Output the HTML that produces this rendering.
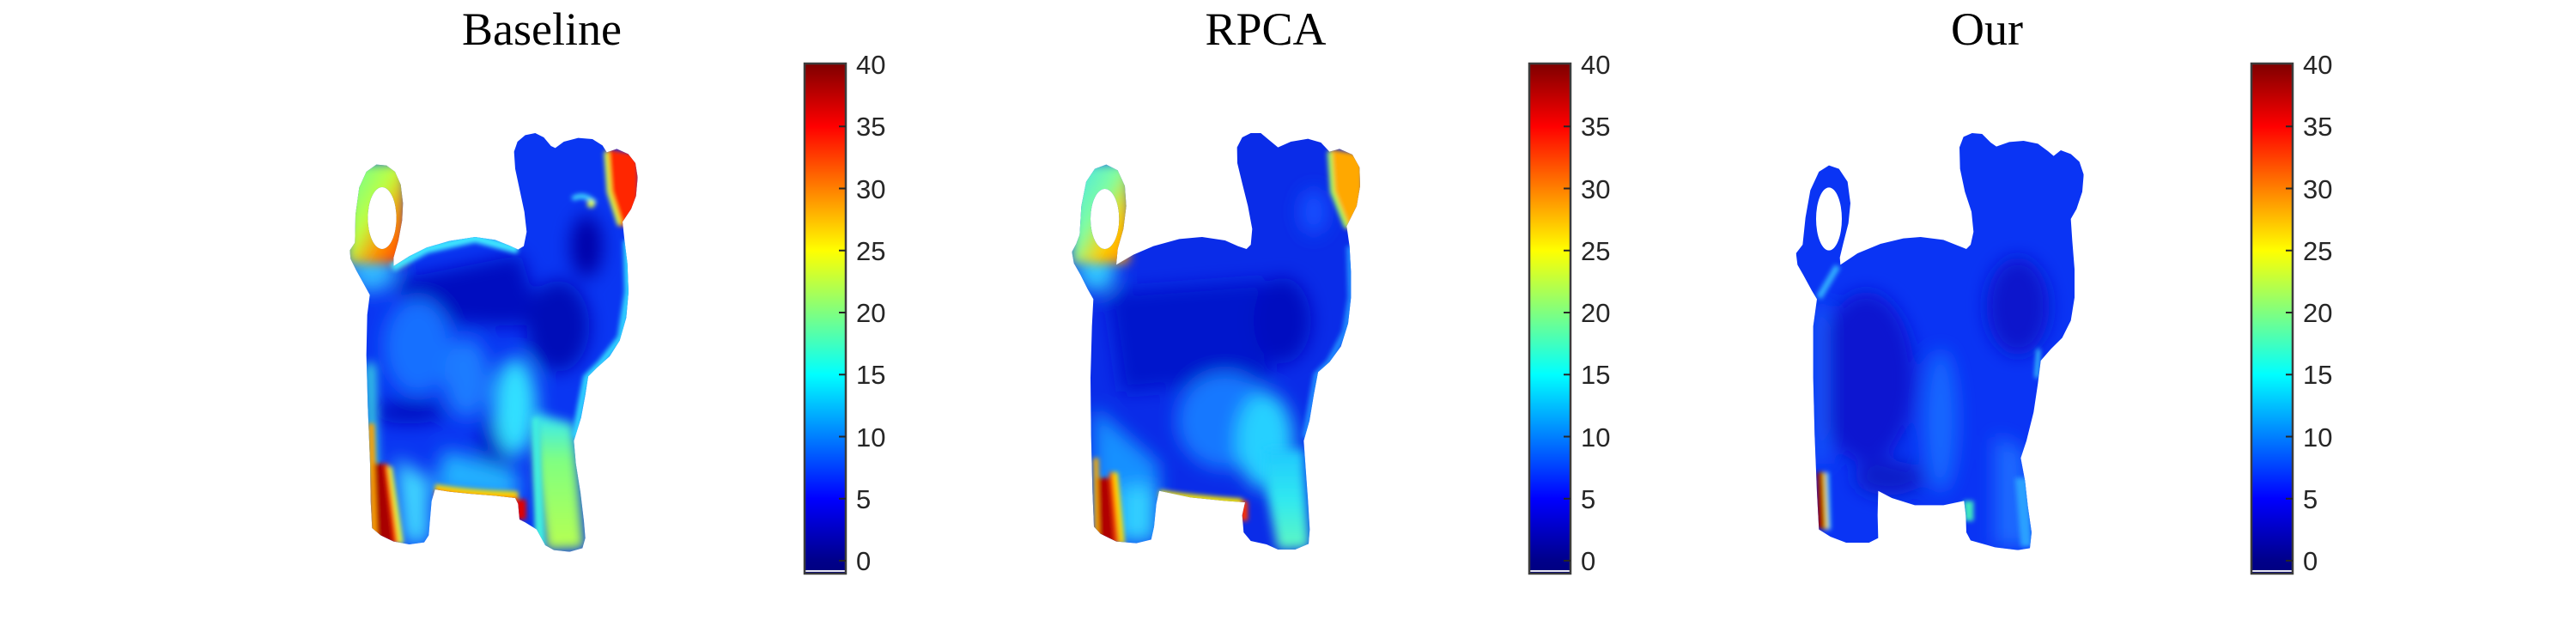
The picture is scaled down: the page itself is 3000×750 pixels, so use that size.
<!DOCTYPE html>
<html><head><meta charset="utf-8"><style>
html,body{margin:0;padding:0;background:#fff;}
svg{display:block;}
.t{font-family:"Liberation Serif",serif;font-size:54px;fill:#000;}
.l{font-family:"Liberation Sans",sans-serif;font-size:31px;fill:#262626;}
</style></head><body>
<svg width="3000" height="750" viewBox="0 0 3000 750" xmlns="http://www.w3.org/2000/svg">
<defs>
<linearGradient id="jet" x1="0" y1="0" x2="0" y2="1">
<stop offset="0" stop-color="#800000"/>
<stop offset="0.0017" stop-color="#800000"/>
<stop offset="0.1233" stop-color="#ff0000"/>
<stop offset="0.3666" stop-color="#ffff00"/>
<stop offset="0.6098" stop-color="#00ffff"/>
<stop offset="0.8531" stop-color="#0000ff"/>
<stop offset="0.9747" stop-color="#00008a"/>
<stop offset="1" stop-color="#000080"/>
</linearGradient>
<linearGradient id="leg1" x1="0" y1="0" x2="0" y2="1">
<stop offset="0" stop-color="#30e8ff"/>
<stop offset="0.35" stop-color="#80ff80"/>
<stop offset="1" stop-color="#b8ff50"/>
</linearGradient>
<linearGradient id="leg2" x1="0" y1="0" x2="0" y2="1">
<stop offset="0" stop-color="#20c8ff"/>
<stop offset="0.5" stop-color="#30e8f0"/>
<stop offset="1" stop-color="#60f8c0"/>
</linearGradient>
<linearGradient id="tail1" x1="0" y1="0" x2="1" y2="1">
<stop offset="0" stop-color="#60ffa0"/>
<stop offset="0.45" stop-color="#c0ff40"/>
<stop offset="0.7" stop-color="#ff9000"/>
<stop offset="1" stop-color="#ff3000"/>
</linearGradient>
<linearGradient id="tail2" x1="0" y1="0" x2="1" y2="1">
<stop offset="0" stop-color="#40e0f0"/>
<stop offset="0.45" stop-color="#80ffa0"/>
<stop offset="0.7" stop-color="#ffd000"/>
<stop offset="1" stop-color="#ff8000"/>
</linearGradient>
<filter id="bb" x="-30%" y="-30%" width="160%" height="160%"><feGaussianBlur stdDeviation="32"/></filter>
<filter id="bm" x="-30%" y="-30%" width="160%" height="160%"><feGaussianBlur stdDeviation="18"/></filter>
<filter id="bs" x="-30%" y="-30%" width="160%" height="160%"><feGaussianBlur stdDeviation="8"/></filter>
<clipPath id="c1"><path clip-rule="evenodd" d="M205,510 L260,475 L320,445 L400,422 L490,408 L560,418 L610,438 L640,452 L660,440 L670,390 L662,320 L645,240 L630,170 L626,110 L638,75 L665,52 L700,45 L730,60 L755,90 L770,97 L800,75 L850,62 L900,66 L935,88 L950,112 L985,100 L1025,118 L1050,150 L1058,200 L1052,265 L1035,310 L1005,355 L1012,420 L1022,500 L1026,600 L1018,690 L995,770 L960,825 L915,865 L885,895 L875,960 L860,1040 L835,1120 L842,1200 L858,1300 L870,1400 L875,1460 L865,1495 L820,1508 L765,1502 L735,1485 L705,1430 L665,1405 L645,1395 L640,1340 L630,1320 L560,1312 L470,1305 L400,1298 L350,1290 L338,1330 L332,1400 L328,1450 L312,1475 L260,1482 L205,1472 L160,1450 L130,1425 L125,1330 L123,1200 L115,1000 L110,820 L113,680 L122,610 L100,570 L75,525 L55,485 L52,455 L70,428 L72,330 L85,235 L110,180 L145,155 L180,158 L210,180 L230,225 L238,290 L235,350 L222,420 L205,480 Z M115,342 A50,108 0 1,0 215,342 A50,108 0 1,0 115,342 Z"/></clipPath>
<clipPath id="c2"><path clip-rule="evenodd" d="M180,505 L240,470 L310,440 L400,415 L480,408 L560,420 L605,440 L635,450 L650,435 L655,380 L640,300 L620,220 L603,150 L602,95 L620,60 L650,45 L685,45 L715,70 L745,95 L790,75 L850,65 L895,78 L925,110 L960,100 L1005,120 L1030,165 L1032,230 L1020,300 L985,370 L995,440 L1000,530 L1000,620 L990,710 L965,790 L925,845 L885,880 L870,960 L855,1050 L835,1120 L842,1220 L850,1330 L856,1430 L852,1480 L805,1500 L745,1500 L705,1482 L650,1470 L625,1440 L620,1380 L630,1335 L560,1330 L440,1318 L330,1295 L320,1340 L312,1420 L302,1465 L250,1478 L180,1472 L125,1445 L102,1420 L97,1300 L92,1100 L90,900 L95,720 L100,625 L80,590 L55,540 L32,500 L25,460 L40,432 L52,400 L58,300 L75,215 L105,170 L145,155 L185,175 L210,230 L215,300 L205,380 L185,450 Z M90,345 A50,105 0 1,0 190,345 A50,105 0 1,0 90,345 Z"/></clipPath>
<clipPath id="c3"><path clip-rule="evenodd" d="M160,505 L220,465 L300,432 L380,413 L440,408 L520,418 L570,438 L600,450 L615,435 L625,390 L618,320 L595,250 L578,170 L576,95 L590,58 L620,45 L655,48 L685,78 L705,92 L750,76 L800,72 L850,82 L885,108 L905,125 L930,105 L965,118 L995,145 L1010,190 L1005,250 L985,310 L965,345 L970,420 L978,520 L978,620 L965,700 L935,760 L895,800 L860,840 L850,920 L835,1020 L810,1120 L790,1180 L805,1260 L815,1350 L828,1440 L822,1495 L780,1502 L700,1492 L615,1468 L600,1440 L598,1380 L592,1330 L520,1345 L420,1345 L340,1320 L292,1295 L290,1380 L292,1460 L260,1476 L180,1476 L125,1455 L85,1430 L78,1300 L70,1100 L65,900 L65,720 L78,625 L60,595 L30,540 L10,505 L5,465 L28,435 L38,340 L55,245 L85,180 L120,158 L155,170 L185,215 L195,290 L188,360 L170,430 L158,480 Z M75,345 A45,110 0 1,0 165,345 A45,110 0 1,0 75,345 Z"/></clipPath>
</defs>
<rect width="3000" height="750" fill="#fff"/>

<!-- Titles -->
<text class="t" x="631" y="52" text-anchor="middle">Baseline</text>
<text class="t" x="1474" y="52" text-anchor="middle">RPCA</text>
<text class="t" x="2314" y="52" text-anchor="middle">Our</text>

<!-- Pig 1 -->
<g transform="translate(390,140) scale(0.33333)">
<g clip-path="url(#c1)">
<rect x="0" y="0" width="1200" height="1560" fill="#0a36f2"/>
<g filter="url(#bb)">
<path d="M200,560 L650,470 L720,700 L600,720 L300,700 Z" fill="#0008c0"/>
<ellipse cx="290" cy="790" rx="120" ry="170" fill="#1670ff"/>
<ellipse cx="460" cy="900" rx="80" ry="140" fill="#1a7cff"/>
<ellipse cx="780" cy="720" rx="110" ry="160" fill="#0008b8"/>
<ellipse cx="880" cy="440" rx="55" ry="110" fill="#0000a8"/>
<ellipse cx="260" cy="1020" rx="130" ry="40" fill="#0010c0"/>
<ellipse cx="560" cy="1150" rx="60" ry="120" fill="#0010c8"/>
<ellipse cx="630" cy="1000" rx="75" ry="170" fill="#30e0ff"/>
<path d="M380,1150 L640,1230 L640,1330 L350,1300 Z" fill="#20b0ff"/>
<path d="M210,1180 L330,1250 L330,1480 L240,1480 Z" fill="#40d8ff"/>
<ellipse cx="130" cy="520" rx="80" ry="80" fill="#30b8ff"/>
</g>
<g filter="url(#bm)">
<path d="M690,1020 L835,1060 L870,1495 L740,1500 L705,1250 Z" fill="url(#leg1)"/>
<path d="M45,150 L245,150 L245,500 L45,500 Z" fill="url(#tail1)"/>
<path d="M108,850 L140,850 L150,1250 L118,1250 Z" fill="#40f0e0"/>
</g>
<g filter="url(#bs)">
<path d="M690,1040 L712,1040 L735,1495 L700,1495 Z" fill="#40f0e0"/>
<path d="M115,1060 L138,1060 L150,1460 L124,1452 Z" fill="#ffa000"/>
<path d="M138,1200 L178,1200 L215,1480 L148,1470 Z" fill="#a80000"/>
<path d="M172,1200 L186,1200 L222,1480 L206,1480 Z" fill="#ff3000"/>
<path d="M186,1210 L200,1210 L240,1480 L222,1480 Z" fill="#e0ff40"/>
<path d="M350,1283 Q480,1305 640,1308" stroke="#ffe000" stroke-width="22" fill="none"/>
<path d="M350,1303 Q480,1328 640,1330" stroke="#ff3000" stroke-width="28" fill="none"/>
<rect x="632" y="1325" width="36" height="70" fill="#e00000"/>
<path d="M200,515 L320,450 L490,412 L640,452" stroke="#40e8ff" stroke-width="30" fill="none"/>
<path d="M950,100 L1060,120 L1060,370 L990,370 L955,250 Z" fill="#ff2800"/>
<path d="M948,110 L958,250 L995,365" stroke="#e0ff40" stroke-width="16" fill="none"/>
<path d="M830,275 Q870,250 910,290" stroke="#40e0ff" stroke-width="16" fill="none"/>
<circle cx="895" cy="292" r="14" fill="#e0ff40"/>
<path d="M1020,420 L1025,600 L1000,760 L930,850 L880,900 L860,1000 L840,1110" stroke="#30d8ff" stroke-width="26" fill="none"/>
</g>
</g>
</g>

<!-- Pig 2 -->
<g transform="translate(1240,140) scale(0.33333)">
<g clip-path="url(#c2)">
<rect x="0" y="0" width="1200" height="1560" fill="#0a2ce8"/>
<g filter="url(#bb)">
<path d="M150,600 L700,560 L720,900 L200,950 Z" fill="#0012cc"/>
<ellipse cx="760" cy="700" rx="100" ry="150" fill="#0010c0"/>
<ellipse cx="560" cy="1050" rx="170" ry="170" fill="#1478ff"/>
<ellipse cx="700" cy="1120" rx="100" ry="170" fill="#28d0ff"/>
<path d="M100,1000 L330,1200 L320,1480 L180,1480 L100,1400 Z" fill="#1890ff"/>
<path d="M200,1280 L320,1280 L320,1470 L200,1470 Z" fill="#30d0ff"/>
<ellipse cx="110" cy="520" rx="70" ry="80" fill="#30c8ff"/>
<ellipse cx="870" cy="320" rx="50" ry="80" fill="#1850ff"/>
</g>
<g filter="url(#bm)">
<path d="M700,1150 L835,1150 L855,1495 L745,1500 L705,1300 Z" fill="url(#leg2)"/>
<path d="M25,150 L225,150 L225,500 L25,500 Z" fill="url(#tail2)"/>
</g>
<g filter="url(#bs)">
<path d="M100,1180 L118,1180 L126,1470 L104,1460 Z" fill="#ffb000"/>
<path d="M115,1250 L158,1250 L175,1480 L120,1470 Z" fill="#b00000"/>
<path d="M155,1230 L170,1230 L190,1480 L175,1480 Z" fill="#ff4000"/>
<path d="M168,1230 L185,1230 L210,1480 L192,1480 Z" fill="#ffe000"/>
<path d="M330,1305 Q470,1325 620,1335" stroke="#f8e800" stroke-width="26" fill="none"/>
<rect x="612" y="1330" width="28" height="70" fill="#ff3000"/>
<path d="M925,100 L1040,120 L1040,380 L985,380 L935,250 Z" fill="#ffa800"/>
<path d="M925,110 L935,250 L985,375" stroke="#a0ff60" stroke-width="16" fill="none"/>
<path d="M995,440 L1000,620 L980,740 L925,845 L880,890 L860,1000 L840,1110" stroke="#2090ff" stroke-width="22" fill="none"/>
</g>
</g>
</g>

<!-- Pig 3 -->
<g transform="translate(2090,140) scale(0.33333)">
<g clip-path="url(#c3)">
<rect x="0" y="0" width="1200" height="1560" fill="#0a34f4"/>
<g filter="url(#bb)">
<ellipse cx="250" cy="900" rx="170" ry="300" fill="#0818d0"/>
<ellipse cx="330" cy="1250" rx="120" ry="60" fill="#0a1ec8"/>
<ellipse cx="780" cy="650" rx="110" ry="170" fill="#0818cc"/>
<ellipse cx="510" cy="1050" rx="60" ry="250" fill="#1868ff"/>
<path d="M700,1100 L800,1150 L825,1490 L700,1490 Z" fill="#1a6aff"/>
<path d="M70,650 L110,650 L110,1200 L70,1200 Z" fill="#1a60ff"/>
</g>
<g filter="url(#bs)">
<path d="M770,1250 L815,1250 L828,1490 L790,1490 Z" fill="#2aa0ff"/>
<path d="M78,1230 L102,1230 L108,1430 L78,1425 Z" fill="#a00000"/>
<path d="M104,1230 L112,1430" stroke="#ffe000" stroke-width="10" fill="none"/>
<path d="M116,1230 L122,1430" stroke="#30e0ff" stroke-width="8" fill="none"/>
<path d="M590,1330 L625,1330 L625,1400 L595,1400 Z" fill="#40e8c0"/>
<path d="M85,620 L150,510" stroke="#30b0ff" stroke-width="22" fill="none"/>
<path d="M852,800 L845,900" stroke="#40e0ff" stroke-width="12" fill="none"/>
</g>
</g>
</g>

<!-- Colorbars -->
<g>
<rect x="937" y="74" width="48" height="594" fill="url(#jet)"/>
<rect x="938" y="664" width="46" height="2" fill="#e8e8f0"/>
<rect x="937" y="74" width="48" height="594" fill="none" stroke="#3c3c3c" stroke-width="2.5"/>
<g stroke="#262626" stroke-width="2">
<line x1="977" y1="653" x2="985" y2="653"/><line x1="977" y1="580.75" x2="985" y2="580.75"/><line x1="977" y1="508.5" x2="985" y2="508.5"/><line x1="977" y1="436.25" x2="985" y2="436.25"/><line x1="977" y1="364" x2="985" y2="364"/><line x1="977" y1="291.75" x2="985" y2="291.75"/><line x1="977" y1="219.5" x2="985" y2="219.5"/><line x1="977" y1="147.25" x2="985" y2="147.25"/>
</g>
<text class="l" x="997" y="664">0</text><text class="l" x="997" y="592">5</text><text class="l" x="997" y="520">10</text><text class="l" x="997" y="447">15</text><text class="l" x="997" y="375">20</text><text class="l" x="997" y="303">25</text><text class="l" x="997" y="231">30</text><text class="l" x="997" y="158">35</text><text class="l" x="997" y="86">40</text>
</g>
<g>
<rect x="1781" y="74" width="48" height="594" fill="url(#jet)"/>
<rect x="1782" y="664" width="46" height="2" fill="#e8e8f0"/>
<rect x="1781" y="74" width="48" height="594" fill="none" stroke="#3c3c3c" stroke-width="2.5"/>
<g stroke="#262626" stroke-width="2">
<line x1="1821" y1="653" x2="1829" y2="653"/><line x1="1821" y1="580.75" x2="1829" y2="580.75"/><line x1="1821" y1="508.5" x2="1829" y2="508.5"/><line x1="1821" y1="436.25" x2="1829" y2="436.25"/><line x1="1821" y1="364" x2="1829" y2="364"/><line x1="1821" y1="291.75" x2="1829" y2="291.75"/><line x1="1821" y1="219.5" x2="1829" y2="219.5"/><line x1="1821" y1="147.25" x2="1829" y2="147.25"/>
</g>
<text class="l" x="1841" y="664">0</text><text class="l" x="1841" y="592">5</text><text class="l" x="1841" y="520">10</text><text class="l" x="1841" y="447">15</text><text class="l" x="1841" y="375">20</text><text class="l" x="1841" y="303">25</text><text class="l" x="1841" y="231">30</text><text class="l" x="1841" y="158">35</text><text class="l" x="1841" y="86">40</text>
</g>
<g>
<rect x="2622" y="74" width="48" height="594" fill="url(#jet)"/>
<rect x="2623" y="664" width="46" height="2" fill="#e8e8f0"/>
<rect x="2622" y="74" width="48" height="594" fill="none" stroke="#3c3c3c" stroke-width="2.5"/>
<g stroke="#262626" stroke-width="2">
<line x1="2662" y1="653" x2="2670" y2="653"/><line x1="2662" y1="580.75" x2="2670" y2="580.75"/><line x1="2662" y1="508.5" x2="2670" y2="508.5"/><line x1="2662" y1="436.25" x2="2670" y2="436.25"/><line x1="2662" y1="364" x2="2670" y2="364"/><line x1="2662" y1="291.75" x2="2670" y2="291.75"/><line x1="2662" y1="219.5" x2="2670" y2="219.5"/><line x1="2662" y1="147.25" x2="2670" y2="147.25"/>
</g>
<text class="l" x="2682" y="664">0</text><text class="l" x="2682" y="592">5</text><text class="l" x="2682" y="520">10</text><text class="l" x="2682" y="447">15</text><text class="l" x="2682" y="375">20</text><text class="l" x="2682" y="303">25</text><text class="l" x="2682" y="231">30</text><text class="l" x="2682" y="158">35</text><text class="l" x="2682" y="86">40</text>
</g>
</svg>
</body></html>
